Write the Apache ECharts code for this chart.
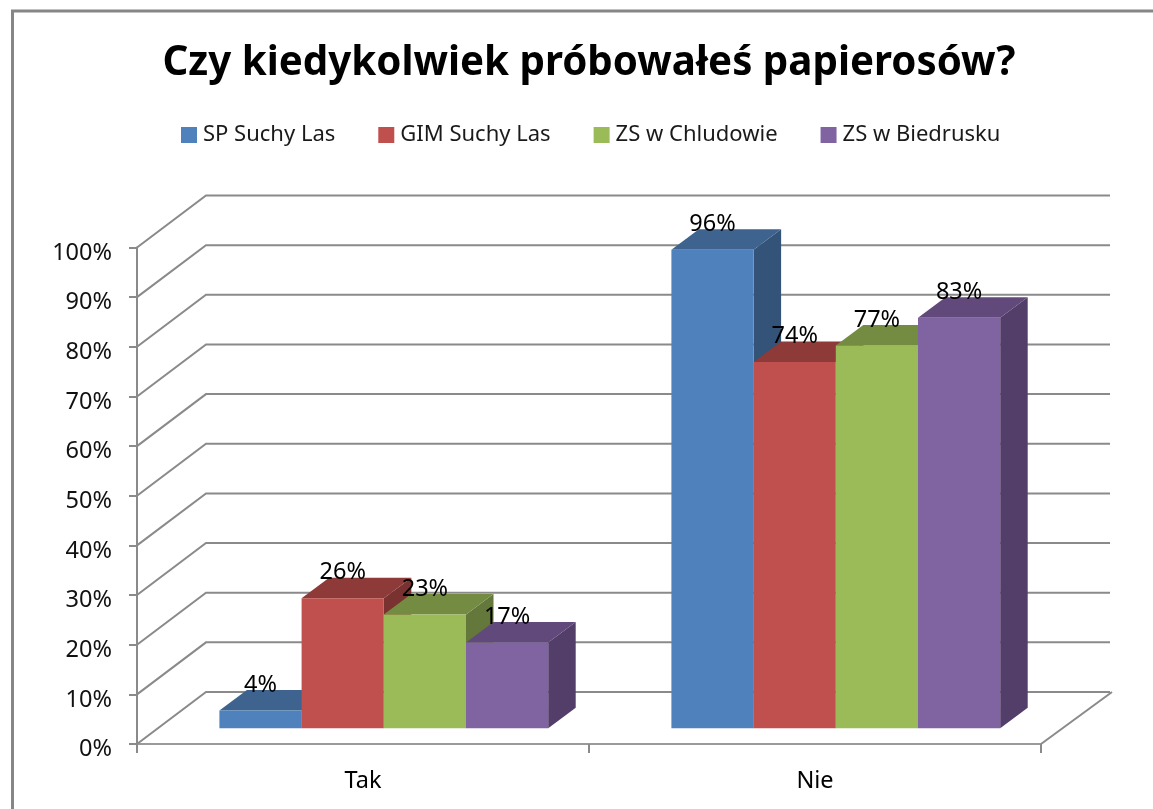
<!DOCTYPE html>
<html><head><meta charset="utf-8">
<style>html,body{margin:0;padding:0;background:#fff}#c{width:1153px;height:809px}</style>
<script src="https://cdn.jsdelivr.net/npm/echarts@6/dist/echarts.min.js"></script>
</head><body><div id="c"></div>
<script>
const categories = ['Tak', 'Nie'];
const spSuchyLas = [3.6, 96.4];
const gimSuchyLas = [26.2, 73.8];
const zsChludowo = [22.9, 77.1];
const zsBiedrusko = [17.3, 82.7];
const gridValues = [0, 10, 20, 30, 40, 50, 60, 70, 80, 90, 100];
const seriesNames = ['SP Suchy Las', 'GIM Suchy Las', 'ZS w Chludowie', 'ZS w Biedrusku'];
const seriesValues = [spSuchyLas, gimSuchyLas, zsChludowo, zsBiedrusko];
const frontColors = ['#4F81BD', '#C0504D', '#9BBB59', '#8064A2'];
const topColors = ['#3E638F', '#8E3A38', '#748C42', '#614A7B'];
const sideColors = ['#335379', '#7A3230', '#63783A', '#523E68'];

const FONT = '"Noto Sans", sans-serif';
const WALL_DX = 69, WALL_DY = 52;
const BAR_W = 82.2, BAR_LIFT = 15.7, BAR_SHIFT = 20.8, DEPTH_X = 27.5, DEPTH_Y = 20.5;
const GRID = '#8A8A8A';

function wallItem(params, api) {
  const cs = params.coordSys;
  const y = api.coord([0, api.value(0)])[1];
  const x0 = cs.x, x1 = cs.x + cs.width;
  const isFloor = api.value(0) === 0;
  const kids = [{
    type: 'polyline',
    shape: { points: [[x0, y], [x0 + WALL_DX, y - WALL_DY], [x1 + WALL_DX, y - WALL_DY]] },
    style: { fill: null, stroke: GRID, lineWidth: 2 }
  }];
  if (isFloor) kids.push({
    type: 'line',
    shape: { x1: x1, y1: y, x2: x1 + WALL_DX + 2, y2: y - WALL_DY },
    style: { stroke: GRID, lineWidth: 2 }
  });
  return { type: 'group', children: kids };
}

function barItem(idx) {
  return function (params, api) {
    const cat = api.value(0), val = api.value(1);
    const base = api.coord([cat, 0]);
    const top = api.coord([cat, val]);
    const xL = base[0] + BAR_SHIFT + (idx - 2) * BAR_W, xR = xL + BAR_W;
    const yB = base[1] - BAR_LIFT, yT = top[1] - BAR_LIFT;
    const dx = DEPTH_X, dy = DEPTH_Y;
    return { type: 'group', children: [
      { type: 'polygon', shape: { points: [[xR, yT], [xR + dx, yT - dy], [xR + dx, yB - dy], [xR, yB]] },
        style: { fill: sideColors[idx] } },
      { type: 'polygon', shape: { points: [[xL, yT], [xL + dx, yT - dy], [xR + dx, yT - dy], [xR, yT]] },
        style: { fill: topColors[idx] } },
      { type: 'rect', shape: { x: xL, y: yT, width: BAR_W, height: yB - yT },
        style: { fill: frontColors[idx] } },
      { type: 'text', z2: 100, style: {
          x: xL + BAR_W / 2, y: yT - 25.5, text: Math.round(val) + '%',
          fill: '#000', font: '23.5px ' + FONT, align: 'center', verticalAlign: 'middle' } }
    ] };
  };
}

const chart = echarts.init(document.getElementById('c'), null, { renderer: 'canvas' });
chart.setOption({
  animation: false,
  backgroundColor: '#fff',
  title: {
    text: 'Czy kiedykolwiek próbowałeś papierosów?',
    left: 584, textAlign: 'center', top: 39,
    textStyle: { fontFamily: FONT, fontWeight: 'bold', fontSize: 40.3, color: '#000' }
  },
  legend: {
    left: 176, top: 119, itemWidth: 16, itemHeight: 16, itemGap: 43,
    icon: 'rect', data: seriesNames,
    textStyle: { fontFamily: FONT, fontSize: 22, color: '#1a1a1a', padding: [0, 0, 0, 1] }
  },
  grid: { left: 137, top: 247.5, width: 904, height: 496.5 },
  xAxis: {
    type: 'category', data: categories,
    axisLine: { lineStyle: { color: '#9A9A9A', width: 2 } },
    axisTick: { show: true, length: 9, lineStyle: { color: GRID, width: 2 } },
    axisLabel: { fontFamily: FONT, fontSize: 23.5, color: '#000', margin: 25 }
  },
  yAxis: {
    type: 'value', min: 0, max: 100, interval: 10,
    axisLine: { show: true, lineStyle: { color: GRID, width: 2 } },
    axisTick: { show: true, length: 8, lineStyle: { color: GRID, width: 2 } },
    splitLine: { show: false },
    axisLabel: { formatter: '{value}%', fontFamily: FONT, fontSize: 23.5, color: '#111', margin: 25,
      verticalAlign: 'top', lineHeight: 11 }
  },
  graphic: [{
    type: 'polyline', silent: true,
    shape: { points: [[12.5, 809], [12.5, 11], [1153, 11]] },
    style: { fill: null, stroke: '#868686', lineWidth: 3 }
  }],
  series: [{
    type: 'custom', name: 'walls', renderItem: wallItem,
    data: gridValues.map(v => [v]), encode: { y: 0 }, silent: true, z: 1
  }].concat(seriesNames.map((n, i) => ({
    type: 'custom', name: n, z: 2, silent: true,
    itemStyle: { color: frontColors[i] },
    renderItem: barItem(i),
    data: seriesValues[i].map((v, c) => [c, v]),
    encode: { x: 0, y: 1 }
  })))
});
</script></body></html>
